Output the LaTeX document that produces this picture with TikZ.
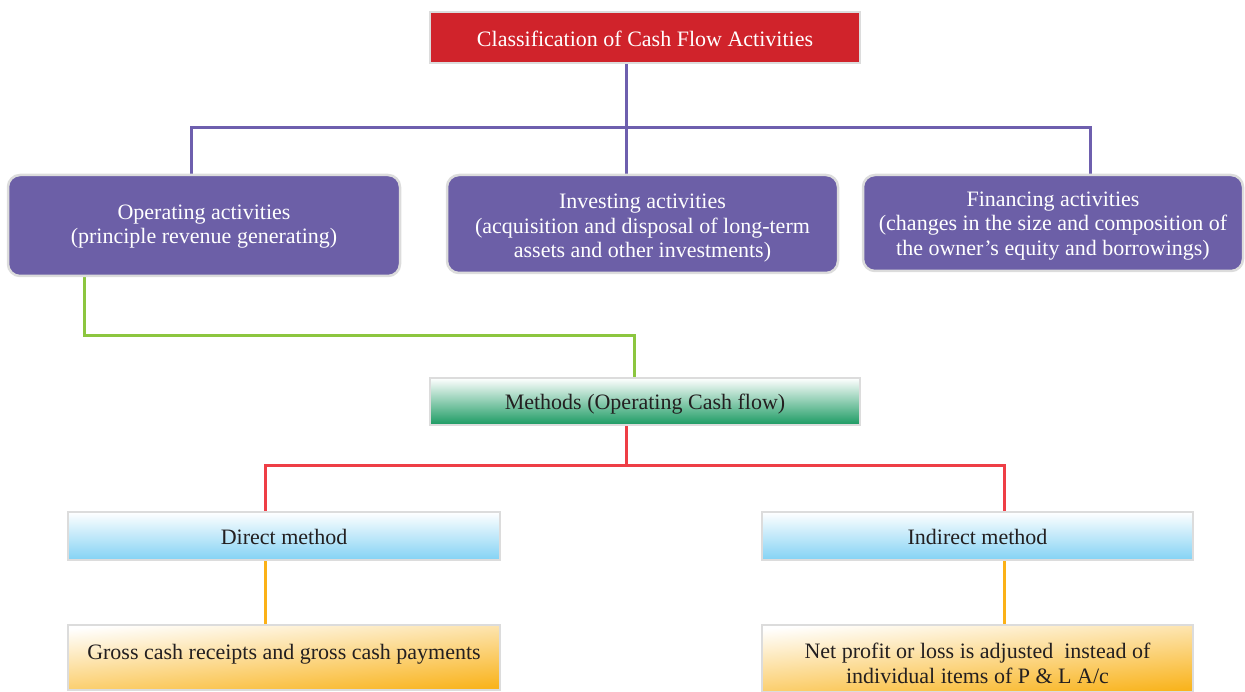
\documentclass[tikz,border=0pt]{standalone}
\usepackage{fontspec}
\setmainfont{Liberation Serif}
\usetikzlibrary{backgrounds}
\definecolor{cfred}{HTML}{D0232B}
\definecolor{cfpurple}{HTML}{6C5FA7}
\definecolor{cfgreen}{HTML}{1A9A62}
\definecolor{cfblue}{HTML}{83D2F4}
\definecolor{cforange}{HTML}{F9B41E}
\definecolor{cfborder}{HTML}{DCDCDC}
\definecolor{cftext}{HTML}{231F20}
\definecolor{lnpurple}{HTML}{6E5FAE}
\definecolor{lngreen}{HTML}{8CC63F}
\definecolor{lnred}{HTML}{EE3E46}
\definecolor{lnorange}{HTML}{FBB117}
% centred lines of text, moved up or down while keeping their natural size
\newcommand{\lines}[2][0pt]{\raisebox{#1}[\height][\depth]{\begin{tabular}{@{}c@{}}#2\end{tabular}}}
\tikzset{
  x=1pt, y=-1pt,
  box/.style={draw=cfborder, line width=2.5pt, inner sep=0pt, align=center,
    font=\fontsize{22}{24.5}\selectfont},
  titlebox/.style={box, fill=cfred, text=white},
  activity/.style={box, fill=cfpurple, text=white, rounded corners=12pt},
  methodbox/.style={box, text=cftext, top color=white, bottom color=cfgreen, shading angle=0},
  kindbox/.style={box, text=cftext, top color=white, bottom color=cfblue},
  notebox/.style={box, text=cftext, top color=white, bottom color=cforange, shading angle=5},
  link/.style={line width=3pt},
}
\begin{document}
\begin{tikzpicture}
\useasboundingbox (0,0) rectangle (1245,692);

\node[titlebox, minimum width=430pt, minimum height=51pt] (title) at (645,37.5)
  {\lines[-4pt]{Classification of Cash Flow Activities}};

\node[activity, minimum width=392pt, minimum height=101pt] (op) at (204,225.5)
  {\lines[-1pt]{Operating activities\\(principle revenue generating)}};
\node[activity, minimum width=391pt, minimum height=98pt] (inv) at (642.5,224)
  {\lines[-4.5pt]{Investing activities\\(acquisition and disposal of long-term\\assets and other investments)}};
\node[activity, minimum width=380pt, minimum height=96pt] (fin) at (1053,223)
  {\lines[-3pt]{Financing activities\\(changes in the size and composition of\\the owner’s equity and borrowings)}};

\node[methodbox, minimum width=430pt, minimum height=47pt] (meth) at (645,401.5)
  {\lines[-3pt]{Methods (Operating Cash flow)}};

\node[kindbox, minimum width=432pt, minimum height=48pt] (direct) at (284,536)
  {\lines[-3.5pt]{Direct method}};
\node[kindbox, minimum width=431pt, minimum height=48pt] (indirect) at (977.5,536)
  {\lines[-3.5pt]{Indirect method}};

\node[notebox, minimum width=432pt, minimum height=65pt] (gross) at (284,657.5)
  {\lines[3pt]{Gross cash receipts and gross cash payments}};
\node[notebox, minimum width=431pt, minimum height=67pt] (net) at (977.5,658.5)
  {\lines[-7.5pt]{Net profit or loss is adjusted\ \ instead of\\individual items of P \& L A/c}};

% junction points of the connectors
\coordinate (pa) at (191,128);
\coordinate (pb) at (626,128);
\coordinate (pc) at (1090,128);
\coordinate (ga) at (84,336);
\coordinate (gb) at (634,336);
\coordinate (ra) at (265,465);
\coordinate (rb) at (626,465);
\coordinate (rc) at (1004,465);

\begin{pgfonlayer}{background}
  \draw[link, lnpurple] (title.south -| pb) -- (inv.north -| pb);
  \draw[link, lnpurple] (op.north -| pa) -- (pa) -- (pc) -- (fin.north -| pc);
  \draw[link, lngreen] (op.south -| ga) -- (ga) -- (gb) -- (meth.north -| gb);
  \draw[link, lnred] (meth.south -| rb) -- (rb);
  \draw[link, lnred] (direct.north -| ra) -- (ra) -- (rc) -- (indirect.north -| rc);
  \draw[link, lnorange] (direct.south -| ra) -- (gross.north -| ra);
  \draw[link, lnorange] (indirect.south -| rc) -- (net.north -| rc);
\end{pgfonlayer}
\end{tikzpicture}
\end{document}
